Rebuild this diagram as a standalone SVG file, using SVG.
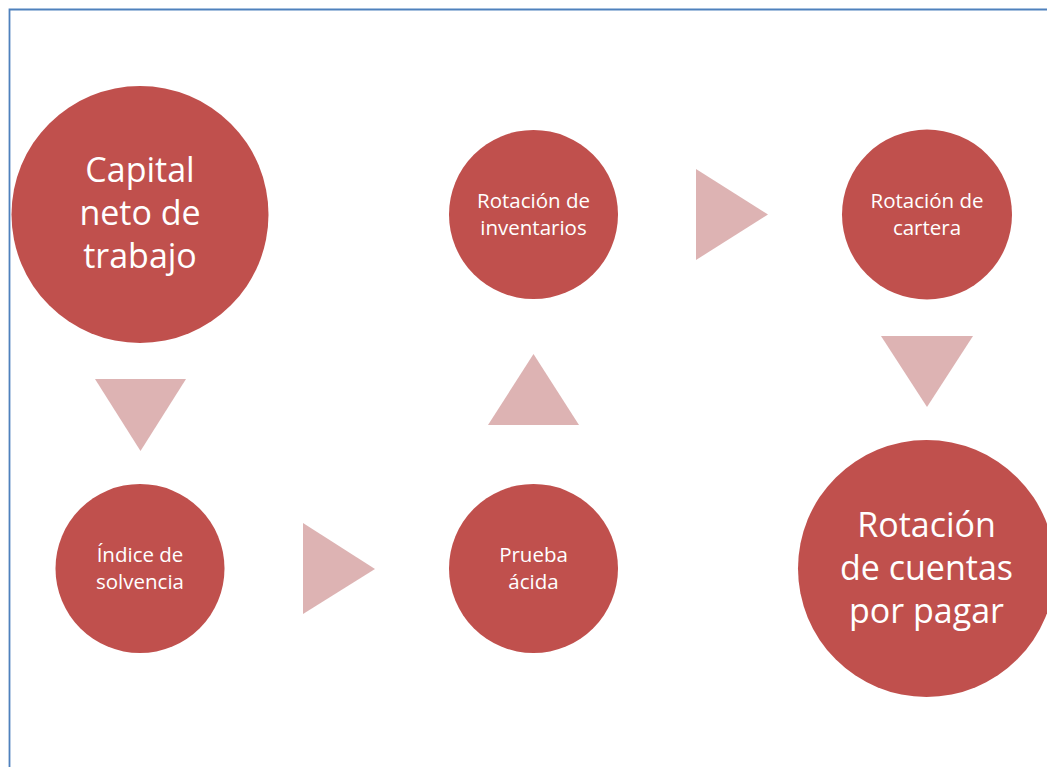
<svg xmlns="http://www.w3.org/2000/svg" width="1047" height="767" viewBox="0 0 1047 767">
<style>
.node{fill:#C0504D}
.arrow{fill:#DDB3B3}
.big{font-family:"Open Sans","Noto Sans",sans-serif;font-size:34px;fill:#ffffff;text-anchor:middle}
.small{font-family:"Open Sans","Noto Sans",sans-serif;font-size:20.5px;fill:#ffffff;text-anchor:middle}
</style>
<rect width="1047" height="767" fill="#ffffff"/>
<path d="M9.5,767 V9.5 H1047" fill="none" stroke="#4F81BD" stroke-width="1.8"/>
<g id="connectors">
<polygon class="arrow" points="95,379 186,379 140.5,451"/>
<polygon class="arrow" points="303,523 303,614 375,569"/>
<polygon class="arrow" points="488,425 579,425 533.5,354"/>
<polygon class="arrow" points="696,169 696,260 768,214.5"/>
<polygon class="arrow" points="881,336 973,336 927,407"/>
</g>
<g id="capital">
<circle class="node" cx="140" cy="214.5" r="128.5"/>
<text class="big" x="140" y="182">Capital</text>
<text class="big" x="140" y="225">neto de</text>
<text class="big" x="140" y="268">trabajo</text>
</g>
<g id="indice">
<circle class="node" cx="140" cy="568.5" r="84.5"/>
<text class="small" x="140" y="562">Índice de</text>
<text class="small" x="140" y="589">solvencia</text>
</g>
<g id="prueba">
<circle class="node" cx="533.5" cy="568.5" r="84.5"/>
<text class="small" x="533.5" y="562">Prueba</text>
<text class="small" x="533.5" y="589">ácida</text>
</g>
<g id="inventarios">
<circle class="node" cx="533.5" cy="214.5" r="84.5"/>
<text class="small" x="533.5" y="208">Rotación de</text>
<text class="small" x="533.5" y="235">inventarios</text>
</g>
<g id="cartera">
<circle class="node" cx="927" cy="214.5" r="85"/>
<text class="small" x="927" y="208">Rotación de</text>
<text class="small" x="927" y="235">cartera</text>
</g>
<g id="cuentas">
<circle class="node" cx="926.5" cy="568.5" r="128.5"/>
<text class="big" x="926.5" y="537">Rotación</text>
<text class="big" x="926.5" y="580">de cuentas</text>
<text class="big" x="926.5" y="623">por pagar</text>
</g>
</svg>
